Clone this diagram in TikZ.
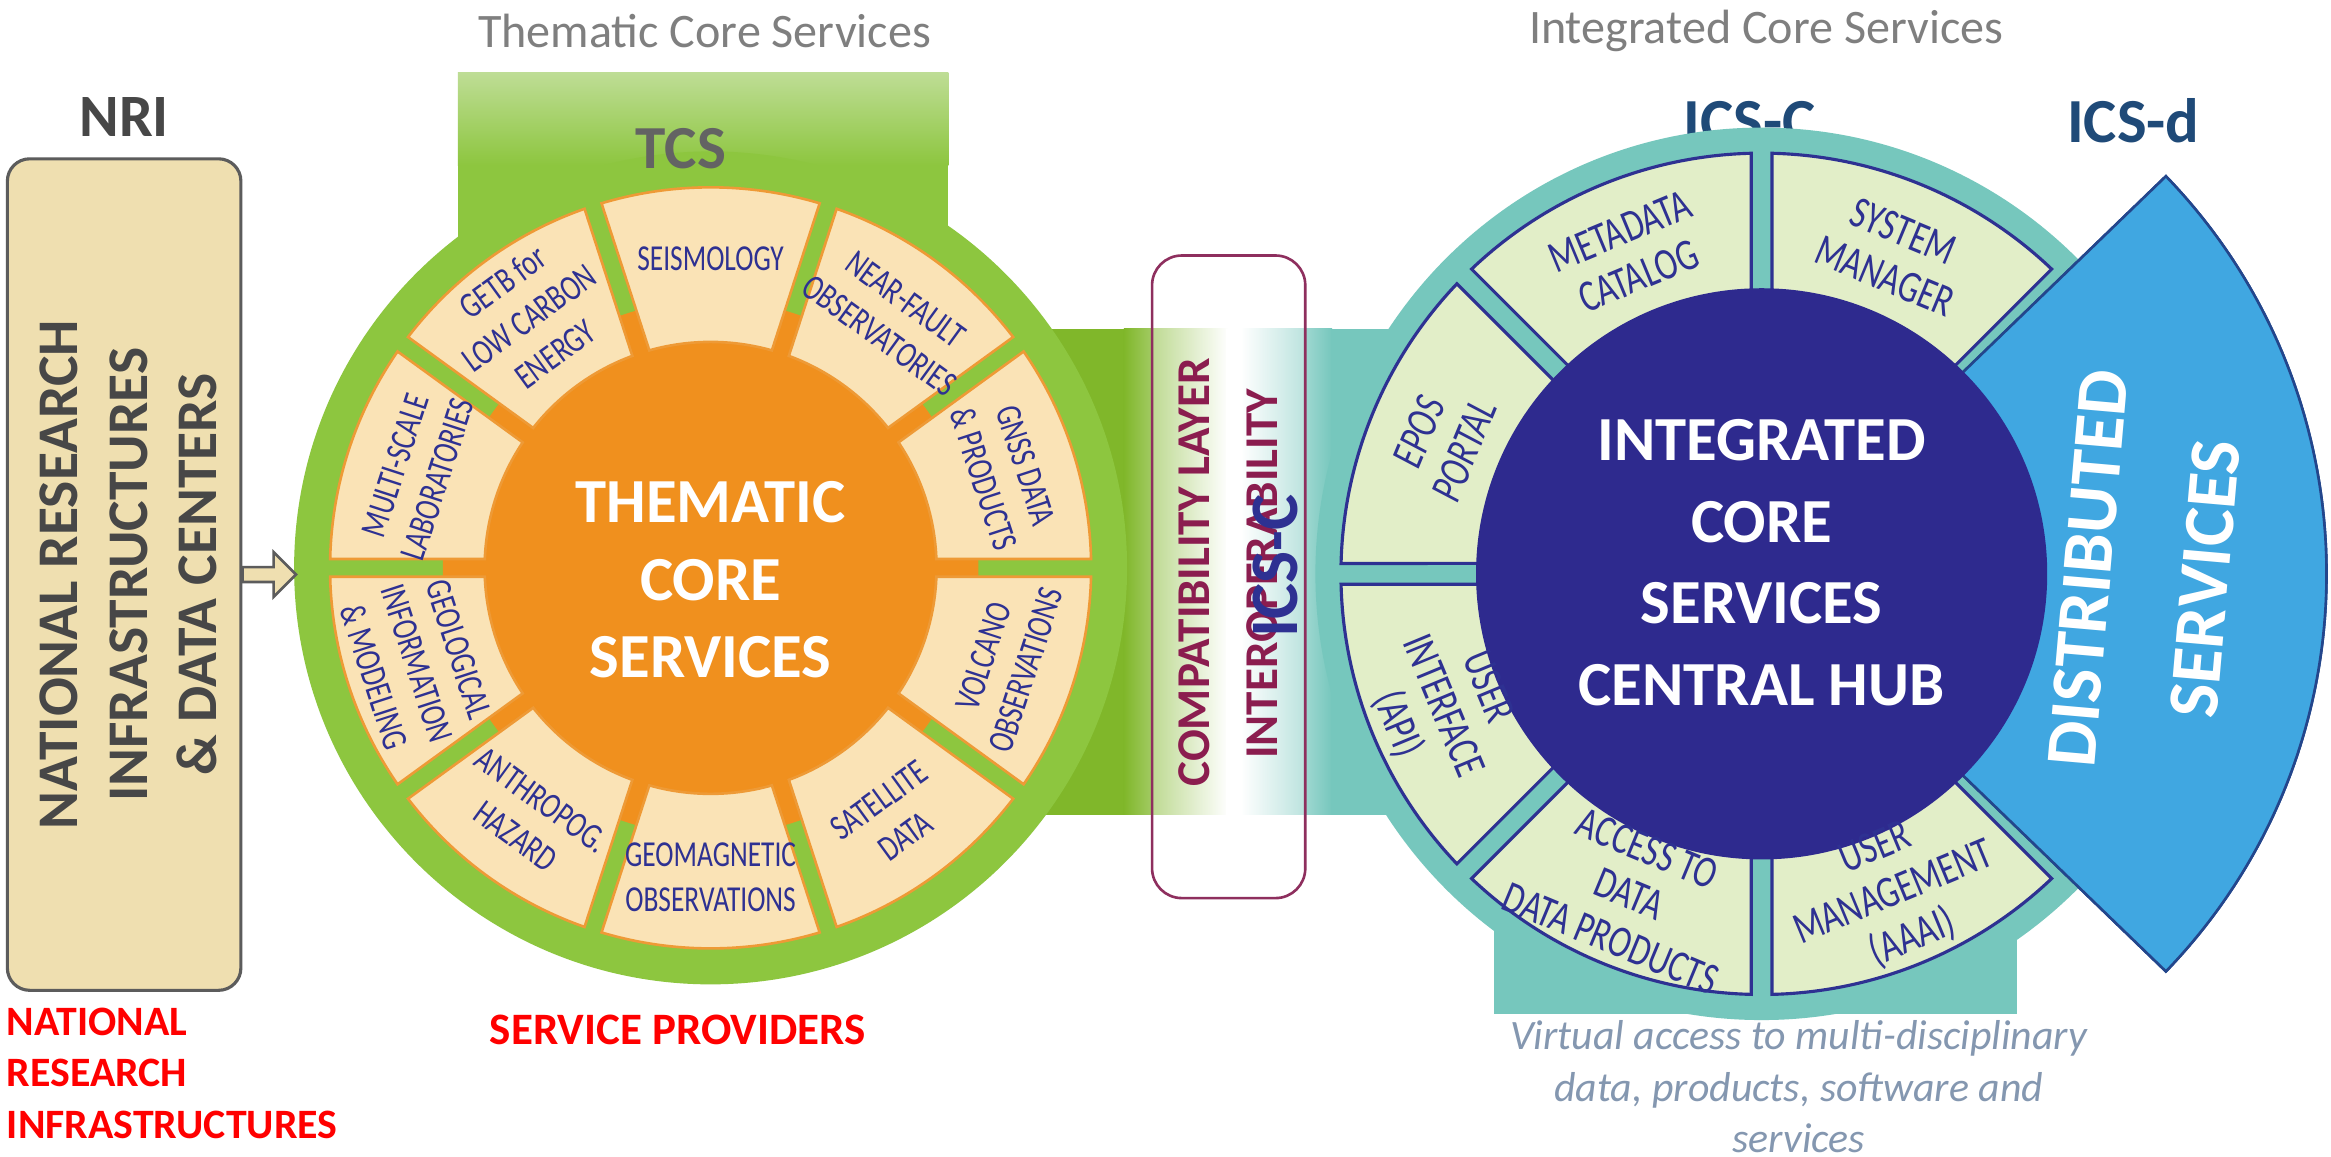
\documentclass[tikz,border=0pt]{standalone}
\usepackage{fontspec}
\setmainfont{Carlito}
\newfontfamily\condfont[FakeStretch=0.75]{Carlito}
\usepackage{xcolor}
\usepackage{tikz}
\usetikzlibrary{positioning, calc}

\definecolor{tcsgreen}{HTML}{8DC63F}
\definecolor{tcslight}{HTML}{BEDD95}
\definecolor{bandgreen}{HTML}{80B72A}
\definecolor{tcsorange}{HTML}{F0901E}
\definecolor{tcspeach}{HTML}{FAE3B6}
\definecolor{tcsedge}{HTML}{EE9A36}
\definecolor{segnavy}{HTML}{2E3192}
\definecolor{icsteal}{HTML}{76C7BD}
\definecolor{icspale}{HTML}{E2EEC8}
\definecolor{icshub}{HTML}{2E2A8E}
\definecolor{distblue}{HTML}{40A7E1}
\definecolor{distdark}{HTML}{2C78BE}
\definecolor{distedge}{HTML}{23468C}
\definecolor{nrifill}{HTML}{EFDFB0}
\definecolor{nriedge}{HTML}{5C5C5C}
\definecolor{nritext}{HTML}{474747}
\definecolor{titlegray}{HTML}{7F7F7F}
\definecolor{compedge}{HTML}{8E2F5E}
\definecolor{comptext}{HTML}{8B1D4F}
\definecolor{icslabel}{HTML}{1F4A78}
\definecolor{virtgray}{HTML}{8497B0}
\definecolor{provred}{HTML}{FF0000}

\begin{document}
\begin{tikzpicture}[x=0.01cm, y=0.01cm,
    every node/.style={inner sep=0pt, align=center},
    toptitle/.style={font=\fontsize{9.2}{11}\selectfont, text=titlegray},
    headlabel/.style={font=\bfseries\fontsize{11.5}{13}\selectfont},
    nribox/.style={draw=nriedge, line width=0.6pt, fill=nrifill, rounded corners=0.15cm, minimum width=1.57cm, minimum height=5.59cm},
    nriarrow/.style={draw=nriedge, line width=0.5pt, fill=nrifill},
    tcsseg/.style={fill=tcspeach, draw=tcsedge, line width=0.5pt},
    tcslabel/.style={font=\condfont\fontsize{7}{8.5}\selectfont, text=segnavy},
    icsseg/.style={fill=icspale, draw=segnavy, line width=0.6pt},
    icslabelstyle/.style={font=\condfont\fontsize{8.6}{9.3}\selectfont, text=segnavy},
    hubtext/.style={font=\bfseries\fontsize{12}{#1}\selectfont, text=white},
    compbox/.style={draw=compedge, line width=0.5pt, fill=white, fill opacity=0.3, rounded corners=0.2cm, minimum width=1.03cm, minimum height=4.32cm},
    comptext/.style={font=\bfseries\fontsize{9}{11}\selectfont, text=comptext},
    redlabel/.style={font=\bfseries\fontsize{#1}{9.8}\selectfont, text=provred},
    virtual/.style={font=\itshape\fontsize{8}{9.8}\selectfont, text=virtgray}]

    \useasboundingbox (0,0) rectangle (1568,778);
    \fill[white] (0,0) rectangle (1568,778);

    % section titles
    \node[toptitle] (tcstitle) at (474,757) {Thematic Core Services};
    \node[toptitle] (icstitle) at (1188,757) {Integrated Core Services};

    % national research infrastructures
    \node[nribox] (nri) at (83.5,391.5) {};
    \node[headlabel, text=nritext, above=0.13cm of nri] (nrilabel) {NRI};
    \node[font=\bfseries\fontsize{11}{13.3}\selectfont, text=nritext, rotate=90] (nritxt) at ($(nri.center)+(3,0)$) {NATIONAL RESEARCH\\INFRASTRUCTURES\\\& DATA CENTERS};

    % band linking the two hubs
    \fill[bandgreen] (640,230) rectangle (757,557);
    \shade[left color=bandgreen, right color=white] (756,230) rectangle (826,557);
    \fill[white] (825,230) rectangle (836,557);
    \shade[left color=white, right color=icsteal] (835,230) rectangle (896,557);
    \fill[icsteal] (895,230) rectangle (1000,557);

    % thematic core services wheel
    \fill[tcsgreen] (308,396) rectangle (638,668);
    \shade[top color=tcslight, bottom color=tcsgreen] (308,667) rectangle (638,729);
    \node[circle, fill=tcsgreen, minimum size=5.6cm] (tcs) at (478,396) {};
    \node[circle, fill=tcsorange, minimum size=3.6cm] (tcscore) at (tcs.center) {};
    \foreach \ang/\rot/\txt in {90/0/SEISMOLOGY, 54/-36/{NEAR-FAULT\\OBSERVATORIES}, 18/-72/{GNSS DATA\\\& PRODUCTS},
        -18/72/{VOLCANO\\OBSERVATIONS}, -54/36/{SATELLITE\\DATA}, -90/0/{GEOMAGNETIC\\OBSERVATIONS},
        -126/-36/{ANTHROPOG.\\HAZARD}, -162/-72/{GEOLOGICAL\\INFORMATION\\\& MODELING},
        162/72/{MULTI-SCALE\\LABORATORIES}, 126/36/{GETB for\\LOW CARBON\\ENERGY}} {
        \draw[tcsseg] ($(tcs.center)+({\ang-18+asin(6/152)}:152)$) -- ($(tcs.center)+({\ang-18+asin(6/256)}:256)$)
            arc[start angle={\ang-18+asin(6/256)}, end angle={\ang+18-asin(6/256)}, radius=256]
            -- ($(tcs.center)+({\ang+18-asin(6/152)}:152)$)
            arc[start angle={\ang+18-asin(6/152)}, end angle={\ang-18+asin(6/152)}, radius=152] -- cycle;
        \node[tcslabel, rotate=\rot] at ($(tcs.center)+(\ang:208)$) {\txt};
    }
    \node[hubtext=14.8] (tcscaption) at (478,388) {THEMATIC\\CORE\\SERVICES};
    \node[headlabel, font=\bfseries\fontsize{11.7}{13}\selectfont, text=nritext!85] (tcslabel) at (458,678) {TCS};

    % block arrow into the wheel
    \draw[nriarrow] (nri.east) ++(0,5) -- ++(21,0) -- ++(0,10) -- ++(15,-15) -- ++(-15,-15) -- ++(0,10) -- ++(-21,0) -- cycle;

    % integrated core services hub
    \node[headlabel, font=\bfseries\fontsize{12}{13}\selectfont, text=icslabel] (icsclabel) at (1177,696) {ICS-C};
    \node[headlabel, font=\bfseries\fontsize{12}{13}\selectfont, text=icslabel] (icsdlabel) at (1435,697) {ICS-d};
    \fill[icsteal] (1005,96) rectangle (1357,392);
    \node[circle, fill=icsteal, minimum size=6cm] (ics) at (1185,392) {};
    \foreach \ang in {67.5, 112.5, 157.5, 202.5, 247.5, 292.5} {
        \draw[icsseg] ($(ics.center)+({\ang-22.5+asin(7/180)}:180)$) -- ($(ics.center)+({\ang-22.5+asin(7/283)}:283)$)
            arc[start angle={\ang-22.5+asin(7/283)}, end angle={\ang+22.5-asin(7/283)}, radius=283]
            -- ($(ics.center)+({\ang+22.5-asin(7/180)}:180)$)
            arc[start angle={\ang+22.5-asin(7/180)}, end angle={\ang-22.5+asin(7/180)}, radius=180] -- cycle;
    }

    % distributed services wedge (stacked)
    \coordinate (distc) at (1180,392);
    \draw[fill=distdark, draw=distedge, line width=0.5pt, shift={(-7,-8)}] ($(distc)+(-44:150)$) -- ($(distc)+(-44:385)$)
        arc[start angle=-44, end angle=44, radius=385] -- ($(distc)+(44:150)$)
        arc[start angle=44, end angle=-44, radius=150] -- cycle;
    \draw[fill=distblue, draw=distedge, line width=0.5pt] ($(distc)+(-44:150)$) -- ($(distc)+(-44:385)$)
        arc[start angle=-44, end angle=44, radius=385] -- ($(distc)+(44:150)$)
        arc[start angle=44, end angle=-44, radius=150] -- cycle;
    \node[circle, fill=icshub, minimum size=3.84cm] (hub) at (ics.center) {};
    \node[hubtext=15.6] (hubcaption) at (1185,399.5) {INTEGRATED\\CORE\\SERVICES\\CENTRAL HUB};
    \node[font=\bfseries\fontsize{13.8}{22.5}\selectfont, text=white, rotate=85] (distcaption) at (1444,392) {DISTRIBUTED\\SERVICES};

    % segment captions go on top of the hub
    \foreach \ang/\rot/\txt in {67.5/-22.5/{SYSTEM\\MANAGER}, 112.5/22.5/{METADATA\\CATALOG}, 157.5/67.5/{\itshape EPOS\\\itshape PORTAL},
        202.5/-67.5/{USER\\INTERFACE\\(API)}, 247.5/-22.5/{ACCESS TO\\DATA\\DATA PRODUCTS}, 292.5/22.5/{USER\\MANAGEMENT\\(AAAI)}} {
        \node[icslabelstyle, rotate=\rot] at ($(ics.center)+(\ang:233)$) {\txt};
    }

    % compatibility layer
    \node[compbox] (compat) at (826.5,390) {};
    \node[comptext, rotate=90] (compline) at (803,393) {COMPATIBILITY LAYER};
    \node[comptext, rotate=90] (interop) at (849,392) {INTEROPERABILITY};
    \node[font=\bfseries\fontsize{13}{14}\selectfont, text=segnavy, rotate=90] (icscmid) at (858,397) {ICS-C};

    % captions underneath
    \node[redlabel=8, align=left, anchor=west] (nrired) at (4,56) {NATIONAL\\RESEARCH\\INFRASTRUCTURES};
    \node[redlabel=8.6] (providers) at (456,85) {SERVICE PROVIDERS};
    \node[virtual] (virtualtxt) at (1210,47) {Virtual access to multi-disciplinary\\data, products, software and\\services};
\end{tikzpicture}
\end{document}
